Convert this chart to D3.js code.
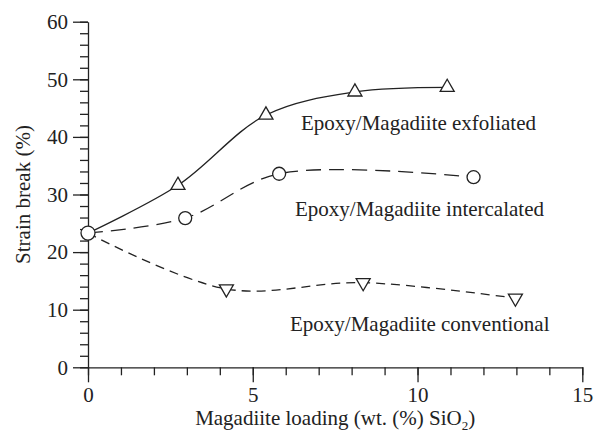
<!DOCTYPE html>
<html>
<head>
<meta charset="utf-8">
<script src="https://cdn.jsdelivr.net/npm/d3@7"></script>
<style>
  html, body { margin: 0; padding: 0; background: #fff; }
  svg { display: block; }
</style>
</head>
<body>
<svg id="chart" width="594" height="437"></svg>
<script>
// Magadiite loading (wt. % SiO2) and strain at break (%) for each composite type
const exfoliatedX = [0, 2.73, 5.4, 8.1, 10.9];
const exfoliatedY = [23.3, 31.6, 43.8, 47.8, 48.6];
const intercalatedX = [0, 2.95, 5.8, 11.7];
const intercalatedY = [23.3, 25.9, 33.6, 33.0];
const conventionalX = [0, 4.2, 8.35, 12.97];
const conventionalY = [23.3, 13.6, 14.7, 12.0];

const seriesNames = [
  "Epoxy/Magadiite exfoliated",
  "Epoxy/Magadiite intercalated",
  "Epoxy/Magadiite conventional"
];
const xTicks = [0, 5, 10, 15];
const yTicks = [0, 10, 20, 30, 40, 50, 60];

const FONT = '"Liberation Serif", "Times New Roman", serif';
const ink = "#222";

const svg = d3.select("#chart");
const margin = { top: 21.7, right: 11.7, bottom: 69.7, left: 88 };
const W = 594, H = 437;

const x = d3.scaleLinear().domain([0, 15]).range([margin.left, W - margin.right]);
const y = d3.scaleLinear().domain([0, 60]).range([H - margin.bottom, margin.top]);

// minor ticks
svg.append("g")
  .attr("transform", `translate(0,${y(0)})`)
  .call(d3.axisBottom(x).tickValues(d3.range(0, 16, 1)).tickSize(8).tickFormat(""))
  .call(g => g.select(".domain").remove());
svg.append("g")
  .attr("transform", `translate(${x(0)},0)`)
  .call(d3.axisLeft(y).tickValues(d3.range(0, 61, 2)).tickSize(8).tickFormat(""))
  .call(g => g.select(".domain").remove());

// major axes
svg.append("g")
  .attr("transform", `translate(0,${y(0)})`)
  .call(d3.axisBottom(x).tickValues(xTicks).tickSize(15).tickSizeOuter(0).tickPadding(5).tickFormat(d3.format("d")));
svg.append("g")
  .attr("transform", `translate(${x(0)},0)`)
  .call(d3.axisLeft(y).tickValues(yTicks).tickSize(15).tickSizeOuter(0).tickPadding(5).tickFormat(d3.format("d")));

svg.selectAll(".tick line, .domain").attr("stroke", ink).attr("stroke-width", 1.3);
svg.selectAll(".tick text")
  .style("font-family", FONT)
  .style("font-size", "21px")
  .attr("fill", ink);

// axis titles
svg.append("text")
  .attr("transform", `translate(29.5,${(y(0) + y(60)) / 2}) rotate(-90)`)
  .attr("text-anchor", "middle")
  .style("font-family", FONT)
  .style("font-size", "21px")
  .attr("fill", ink)
  .text("Strain break (%)");

const xt = svg.append("text")
  .attr("x", (x(0) + x(15)) / 2)
  .attr("y", 425)
  .attr("text-anchor", "middle")
  .style("font-family", FONT)
  .style("font-size", "21px")
  .attr("fill", ink);
xt.append("tspan").text("Magadiite loading (wt. (%) SiO");
xt.append("tspan").style("font-size", "13px").attr("dy", 5).text("2");
xt.append("tspan").attr("dy", -5).text(")");

// curves
const curve = d3.line().curve(d3.curveCatmullRom.alpha(0.5));
const pts = (xs, ys) => xs.map((v, i) => [x(v), y(ys[i])]);

const series = [
  { xs: exfoliatedX, ys: exfoliatedY, dash: null, marker: "up" },
  { xs: intercalatedX, ys: intercalatedY, dash: "15,8", marker: "circle" },
  { xs: conventionalX, ys: conventionalY, dash: "9,6", marker: "down" }
];

series.forEach(s => {
  svg.append("path")
    .attr("d", curve(pts(s.xs, s.ys)))
    .attr("fill", "none")
    .attr("stroke", ink)
    .attr("stroke-width", 1.3)
    .attr("stroke-dasharray", s.dash);
});

// markers (the shared starting point is drawn once, as a circle)
const tri = d3.symbol().type(d3.symbolTriangle).size(85);
series.forEach(s => {
  s.xs.forEach((v, i) => {
    if (i === 0 && s.marker !== "circle") return;
    const cx = x(v), cy = y(s.ys[i]);
    if (s.marker === "circle") {
      svg.append("circle").attr("cx", cx).attr("cy", cy).attr("r", i === 0 ? 7 : 6.5)
        .attr("fill", "#fff").attr("stroke", ink).attr("stroke-width", 1.3);
    } else {
      svg.append("path")
        .attr("d", tri())
        .attr("transform", `translate(${cx},${cy}) rotate(${s.marker === "down" ? 180 : 0})`)
        .attr("fill", "#fff").attr("stroke", ink).attr("stroke-width", 1.3);
    }
  });
});

// series labels
const labelPos = [[301, 130], [295, 216], [290, 331]];
seriesNames.forEach((name, i) => {
  svg.append("text")
    .attr("x", labelPos[i][0])
    .attr("y", labelPos[i][1])
    .style("font-family", FONT)
    .style("font-size", "21px")
    .attr("fill", ink)
    .text(name);
});
</script>
</body>
</html>
